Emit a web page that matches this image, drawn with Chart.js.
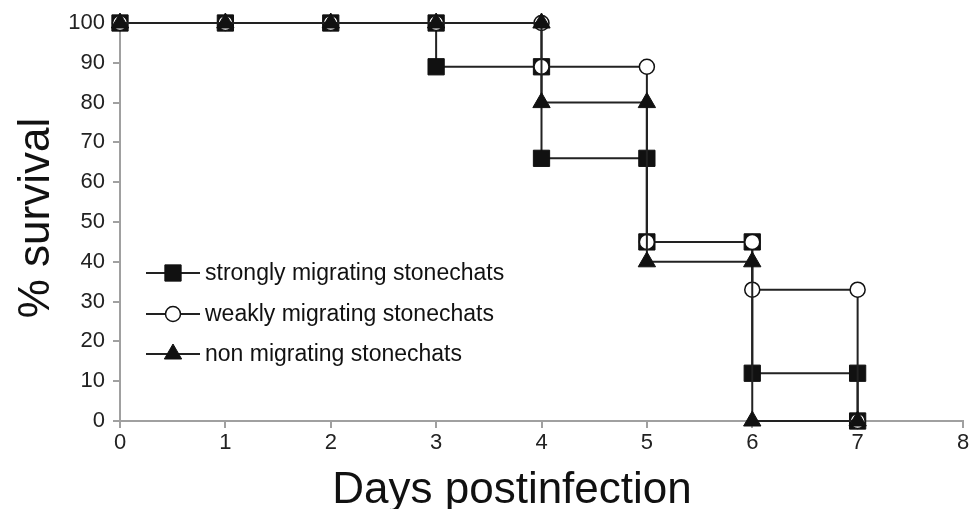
<!DOCTYPE html>
<html>
<head>
<meta charset="utf-8">
<script src="https://cdn.jsdelivr.net/npm/chart.js@4"></script>
<style>
  body { margin: 0; background: #fff; }
  #wrap { width: 970px; height: 509px; }
</style>
</head>
<body>
<div id="wrap"><canvas id="survivalChart" width="970" height="509"></canvas></div>
<script>
// Kaplan-Meier style steps
const strongDays = [0, 1, 2, 3, 3, 4, 4, 5, 5, 6, 6, 7, 7];
const strongSurvival = [100, 100, 100, 100, 89, 89, 66, 66, 45, 45, 12, 12, 0];
const weakDays = [0, 1, 2, 3, 4, 4, 5, 5, 6, 6, 7, 7];
const weakSurvival = [100, 100, 100, 100, 100, 89, 89, 45, 45, 33, 33, 0];
const nonDays = [0, 1, 2, 3, 4, 4, 5, 5, 6, 6, 7];
const nonSurvival = [100, 100, 100, 100, 100, 80, 80, 40, 40, 0, 0];
const seriesNames = ['strongly migrating stonechats', 'weakly migrating stonechats', 'non migrating stonechats'];
const xTicks = [0, 1, 2, 3, 4, 5, 6, 7, 8];
const yTicks = [0, 10, 20, 30, 40, 50, 60, 70, 80, 90, 100];

const pts = (xs, ys) => xs.map((x, i) => ({ x: x, y: ys[i] }));

const datasets = [
    {
        label: seriesNames[0], data: pts(strongDays, strongSurvival),
        borderColor: '#222', borderWidth: 2, pointStyle: 'rect', pointRadius: 11.5,
        pointBackgroundColor: '#111', pointBorderColor: '#111', pointBorderWidth: 1, order: 3
    },
    {
        label: seriesNames[1], data: pts(weakDays, weakSurvival),
        borderColor: '#222', borderWidth: 2, pointStyle: 'circle', pointRadius: 7.5,
        pointBackgroundColor: '#fff', pointBorderColor: '#111', pointBorderWidth: 1.5, order: 2
    },
    {
        label: seriesNames[2], data: pts(nonDays, nonSurvival),
        borderColor: '#222', borderWidth: 2, pointStyle: 'triangle', pointRadius: 10,
        pointBackgroundColor: '#111', pointBorderColor: '#111', pointBorderWidth: 1, order: 1
    }
];
datasets.forEach(d => { d.tension = 0; d.clip = false; d.fill = false; });

// legend inside the plot + axis titles
const extras = {
    id: 'extras',
    afterDatasetsDraw(chart) {
        const ctx = chart.ctx;
        const rows = [273, 314, 354];
        ctx.save();
        chart.data.datasets.forEach((d, i) => {
            const y = rows[i];
            ctx.strokeStyle = '#222';
            ctx.lineWidth = 2;
            ctx.beginPath();
            ctx.moveTo(146, y);
            ctx.lineTo(200, y);
            ctx.stroke();
            ctx.fillStyle = d.pointBackgroundColor;
            ctx.strokeStyle = d.pointBorderColor;
            ctx.lineWidth = d.pointBorderWidth;
            Chart.helpers.drawPoint(ctx, { pointStyle: d.pointStyle, radius: d.pointRadius, rotation: 0, borderWidth: d.pointBorderWidth }, 173, y);
            ctx.fillStyle = '#111';
            ctx.font = '23px "Liberation Sans", Arial, sans-serif';
            ctx.textBaseline = 'middle';
            ctx.textAlign = 'left';
            ctx.fillText(d.label, 205, y + 1);
        });
        ctx.font = '44px "Liberation Sans", Arial, sans-serif';
        ctx.textAlign = 'center';
        ctx.textBaseline = 'middle';
        ctx.fillText('Days postinfection', 512, 491);
        ctx.translate(37, 218);
        ctx.rotate(-Math.PI / 2);
        ctx.fillText('% survival', 0, 0);
        ctx.restore();
    }
};

new Chart(document.getElementById('survivalChart'), {
    type: 'line',
    data: { datasets: datasets },
    options: {
        responsive: false,
        animation: false,
        layout: { autoPadding: false, padding: { top: 23, right: 7, left: 0, bottom: 0 } },
        plugins: { legend: { display: false }, tooltip: { enabled: false } },
        scales: {
            x: {
                type: 'linear', min: 0, max: 8,
                afterBuildTicks: s => { s.ticks = xTicks.map(v => ({ value: v })); },
                afterFit: s => { s.height = 88; s.paddingLeft = 0; s.paddingRight = 0; },
                grid: { drawOnChartArea: false, color: '#a0a0a0', lineWidth: 2, tickLength: 7 },
                border: { color: '#a0a0a0', width: 2 },
                ticks: { color: '#222', font: { size: 22, family: '"Liberation Sans", Arial, sans-serif' }, padding: 2, maxRotation: 0 }
            },
            y: {
                min: 0, max: 100,
                afterBuildTicks: s => { s.ticks = yTicks.map(v => ({ value: v })); },
                afterFit: s => { s.width = 120; s.paddingTop = 0; s.paddingBottom = 0; },
                grid: { drawOnChartArea: false, color: '#a0a0a0', lineWidth: 2, tickLength: 7 },
                border: { color: '#a0a0a0', width: 2 },
                ticks: { color: '#222', font: { size: 22, family: '"Liberation Sans", Arial, sans-serif' }, padding: 8 }
            }
        }
    },
    plugins: [extras]
});
</script>
</body>
</html>
